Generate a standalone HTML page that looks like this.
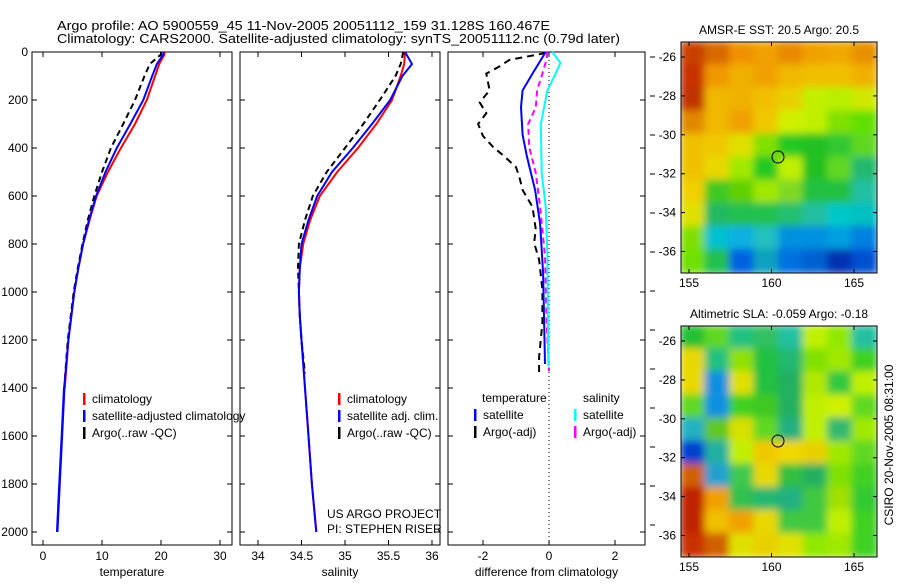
<!DOCTYPE html>
<html><head><meta charset="utf-8"><style>
body{margin:0;background:#fff;}
svg{font-family:"Liberation Sans",sans-serif;font-size:12px;}
</style></head><body>
<svg id="s" width="900" height="580" xmlns="http://www.w3.org/2000/svg">
<defs>
<filter id="bl" x="0" y="0" width="1" height="1"><feGaussianBlur stdDeviation="4"/></filter>
<clipPath id="c1"><rect x="681" y="42" width="196" height="231"/></clipPath>
<clipPath id="c2"><rect x="681" y="326" width="196" height="231"/></clipPath>
</defs>
<text x="57" y="30" font-size="13" textLength="493" lengthAdjust="spacingAndGlyphs">Argo profile: AO 5900559_45 11-Nov-2005 20051112_159 31.128S 160.467E</text>
<text x="57" y="43" font-size="13" textLength="563" lengthAdjust="spacingAndGlyphs">Climatology: CARS2000. Satellite-adjusted climatology: synTS_20051112.nc (0.79d later)</text>
<g id="maps"></g>
<g id="plots"></g>
</svg>
<script>
// ---- data ----
const tDepth = [0,10,50,100,200,300,400,500,600,700,800,900,1000,1200,1400];
const tClim  = [20.6,20.6,19.7,19.0,17.6,15.6,13.2,11.0,9.1,7.9,6.8,6.0,5.3,4.3,3.7];
const tDeep  = [1400,1600,1800,2000];
const tSatDeep=[3.6,3.2,2.8,2.4];
const tSat   = [20.4,20.4,19.3,18.5,17.0,14.8,12.5,10.6,9.0,7.8,6.8,6.0,5.3,4.3,3.6];
const tArgo  = [20.0,20.0,18.1,17.2,15.6,13.6,11.5,10.0,8.7,7.6,6.7,5.9,5.2,4.2,3.6];
const sDepth = [0,50,100,200,300,400,500,600,700,800,900,1000,1100,1200,1400,1600,1800,2000];
const sClim  = [35.69,35.68,35.64,35.54,35.36,35.15,34.91,34.71,34.60,34.52,34.48,34.47,34.48,34.50,34.54,34.58,34.62,34.67];
const sSat   = [35.69,35.77,35.66,35.52,35.31,35.09,34.85,34.68,34.58,34.50,34.48,34.47,34.48,34.50,34.54,34.58,34.62,34.67];
const sArgo  = [35.67,35.64,35.58,35.40,35.21,35.00,34.79,34.63,34.54,34.47,34.46,34.47,34.48,34.50,34.54];
const sArgoDepth=[0,50,100,200,300,400,500,600,700,800,900,1000,1100,1200,1340];
const dDepth = [4,33,60,90,160,210,255,300,350,395,435,480,520,575,645,740,795,865,990,1130,1270,1340];
const dTempArgo=[-0.1,-1.2,-1.5,-1.9,-1.8,-2.1,-1.9,-2.15,-2.0,-1.7,-1.35,-1.0,-0.9,-0.8,-0.5,-0.4,-0.45,-0.3,-0.2,-0.2,-0.3,-0.3];
const dDepth2 = [0,90,160,230,345,435,575,715,920,1300];
const dTempSat=[-0.1,-0.5,-0.8,-0.85,-0.8,-0.67,-0.42,-0.27,-0.18,-0.12];
const dDepth3 = [0,33,90,160,230,300,395,505,645,850,1130,1330];
const dSalArgo=[-0.05,-0.08,-0.2,-0.36,-0.4,-0.63,-0.6,-0.4,-0.27,-0.12,-0.07,0];
const dDepth4 = [0,45,90,160,300,505,645,850,1310];
const dSalSat=[0.1,0.35,0.2,-0.05,-0.25,-0.22,-0.1,-0.05,-0.02];
const depthTicks=[0,200,400,600,800,1000,1200,1400,1600,1800,2000];
const tTicks=[0,10,20,30];
const sTicks=[34,34.5,35,35.5,36];
const sTickLabels=["34","34.5","35","35.5","36"];
const dTicks=[-2,0,2];
const latTicks=[-26,-28,-30,-32,-34,-36];
const lonTicks=[155,160,165];
const map1=[
["#c84000","#d86800","#f09000","#f0a000","#e88800","#f0a000","#f0a800","#e89000"],
["#c83000","#f09800","#f0b000","#f0a000","#f0b800","#f0c000","#f0c000","#f0b000"],
["#c03000","#f0b800","#f0b000","#f0c000","#e8d000","#c0f000","#b8f000","#d0e800"],
["#e08800","#f0b800","#f0a000","#f0c800","#d0f000","#c0f000","#80e000","#60e000"],
["#f0c000","#f0c800","#e0e000","#80e000","#20c820","#20c020","#30c830","#60d820"],
["#f0c000","#e8d800","#a0e800","#20c820","#c0f000","#20c020","#60d820","#20b870"],
["#f0d000","#40c820","#60d000","#a0e800","#80d820","#20c040","#20c040","#20c0a0"],
["#e0e000","#20b860","#20c050","#20c050","#20c070","#20c0a0","#00c8c8","#00c0c0"],
["#80e000","#00c0d0","#10b0e0","#20c0c0","#0090e0","#0090e0","#00a0e0","#0080e0"],
["#70e000","#20c050","#0060e0","#10a0c0","#0070e0","#0060d0","#0030b0","#0050d0"]];
const map2=[
["#20c030","#60d820","#20c080","#30c060","#20c0a0","#c0f000","#90e800","#20c0a0"],
["#e8d800","#20c080","#90e000","#20c040","#20b870","#80e000","#a0e800","#40d020"],
["#e8d800","#1090e0","#e0e000","#20c040","#20b060","#b0e800","#30c840","#c0f000"],
["#60d820","#1090e0","#40d020","#40c820","#20b060","#c0f000","#d0f000","#60d820"],
["#20b0c0","#60c820","#d8e000","#60d820","#20b080","#c0f000","#30b870","#a0e800"],
["#0040d0","#20b0a0","#c0f000","#f0c800","#f0d800","#e8d000","#a0e800","#60d820"],
["#d06000","#20a0d0","#40c850","#e8d800","#30c040","#20b060","#80e000","#40d020"],
["#c02000","#f0a000","#30c050","#20b870","#20b080","#40c840","#a0e000","#30c830"],
["#c02000","#f0c000","#f0a000","#e8d800","#40c840","#40c840","#c0f000","#40d020"],
["#c83000","#d06000","#e0e000","#e8d000","#e0e000","#90e800","#a0e800","#40d020"]];

const NS="http://www.w3.org/2000/svg";
const P=document.getElementById('plots'), M=document.getElementById('maps');
function mk(tag,attrs,parent,txt){const e=document.createElementNS(NS,tag);for(const k in attrs)e.setAttribute(k,attrs[k]);if(txt!==undefined)e.textContent=txt;(parent||P).appendChild(e);return e;}
const yD=d=>52+d*0.24;
const xT=v=>43+v*5.9, xS=v=>258+(v-34)*87, xDf=v=>549+v*33;
const panels=[{x0:32,x1:232,fx:xT,ticks:tTicks,labs:tTicks.map(String),lab:"temperature"},
 {x0:240,x1:440,fx:xS,ticks:sTicks,labs:sTickLabels,lab:"salinity"},
 {x0:448,x1:645,fx:xDf,ticks:dTicks,labs:dTicks.map(String),lab:"difference from climatology"}];
panels.forEach((p,i)=>{
 const f=mk('rect',{x:p.x0,y:52,width:p.x1-p.x0,height:493,fill:'none',stroke:'#000'});
 
 
 depthTicks.forEach(d=>{mk('line',{x1:p.x0,x2:p.x0+5,y1:yD(d),y2:yD(d),stroke:'#000'});mk('line',{x1:p.x1,x2:p.x1-5,y1:yD(d),y2:yD(d),stroke:'#000'});});
 p.ticks.forEach((t,j)=>{const x=p.fx(t);mk('line',{x1:x,x2:x,y1:545,y2:540,stroke:'#000'});mk('line',{x1:x,x2:x,y1:52,y2:57,stroke:'#000'});
  const l=mk('text',{x:x,y:560,'text-anchor':'middle'},P,p.labs[j]);
  
  });
 const xl=mk('text',{x:(p.x0+p.x1)/2,y:576,'text-anchor':'middle'},P,p.lab);
 
 
});
depthTicks.forEach(d=>{const l=mk('text',{x:28,y:yD(d)+4,'text-anchor':'end'},P,String(d));
 
 });
for(let y=57;y<545;y+=39)mk('line',{x1:650,x2:655,y1:y,y2:y,stroke:'#000'});
mk('line',{x1:549,x2:549,y1:52,y2:545,stroke:'#000','stroke-dasharray':'1,3'});
function line(xs,ds,fx,col,dash,name,w){
 const pts=xs.map((v,i)=>fx(v).toFixed(1)+','+yD(ds[i]).toFixed(1)).join(' ');
 const e=mk('polyline',{points:pts,fill:'none',stroke:col,'stroke-width':w||2,'stroke-dasharray':dash||'none'});
 
 
}
line(tClim,tDepth,xT,'#f00',null,'temp-climatology-line');
line(tArgo,tDepth,xT,'#000','6,4','temp-argo-line');
line(tSat,tDepth,xT,'#00f',null,'temp-satellite-line');
line(tSatDeep,tDeep,xT,'#00f',null,'temp-satellite-deep-line',2.5);
line(sClim,sDepth,xS,'#f00',null,'sal-climatology-line');
line(sArgo,sArgoDepth,xS,'#000','6,4','sal-argo-line');
line(sSat,sDepth,xS,'#00f',null,'sal-satellite-line');
line(dTempArgo,dDepth,xDf,'#000','7,5','diff-temp-argo-line');
line(dTempSat,dDepth2,xDf,'#00f',null,'diff-temp-satellite-line');
line(dSalArgo,dDepth3,xDf,'#f0f','6,4','diff-sal-argo-line');
line(dSalSat,dDepth4,xDf,'#0ff',null,'diff-sal-satellite-line');
function legend(x,y,items,name){items.forEach((it,i)=>{mk('rect',{x:x,y:y+i*17-10,width:2.5,height:12,fill:it[1]});
 const t=mk('text',{x:x+9,y:y+i*17},P,it[0]);
 
 });}
legend(83,403,[["climatology","#f00"],["satellite-adjusted climatology","#00f"],["Argo(..raw -QC)","#000"]],'temp-legend');
legend(338,403,[["climatology","#f00"],["satellite adj. clim.","#00f"],["Argo(..raw -QC)","#000"]],'sal-legend');
mk('text',{x:482,y:402},P,'temperature');mk('text',{x:583,y:402},P,'salinity');
legend(474,419,[["satellite","#00f"],["Argo(-adj)","#000"]],'diff-temp-legend');
legend(574,419,[["satellite","#0ff"],["Argo(-adj)","#f0f"]],'diff-sal-legend');
mk('text',{x:327,y:518},P,'US ARGO PROJECT');mk('text',{x:327,y:533},P,'PI: STEPHEN RISER');
function drawMap(grid,y0,clip,title,name,cy){
 const g=mk('g',{'clip-path':'url(#'+clip+')'},M);
 
 
 const gi=mk('g',{filter:'url(#bl)'},g);
 const cw=196/8,ch=231/10;
 grid.forEach((row,r)=>row.forEach((c,k)=>mk('rect',{x:681+k*cw-1,y:y0+r*ch-1,width:cw+2,height:ch+2,fill:c},gi)));
 mk('rect',{x:681,y:y0,width:196,height:231,fill:'none',stroke:'#000'},M);
 mk('text',{x:779,y:y0-8,'text-anchor':'middle'},M,title);
 const lat0=y0+15;
 latTicks.forEach((l,i)=>{const y=lat0+i*38.9;mk('line',{x1:681,x2:685,y1:y,y2:y,stroke:'#000'},M);mk('line',{x1:877,x2:873,y1:y,y2:y,stroke:'#000'},M);mk('text',{x:676,y:y+4,'text-anchor':'end'},M,String(l));});
 lonTicks.forEach((l,i)=>{const x=689+i*82.5;mk('line',{x1:x,x2:x,y1:y0+231,y2:y0+227,stroke:'#000'},M);mk('line',{x1:x,x2:x,y1:y0,y2:y0+4,stroke:'#000'},M);mk('text',{x:x,y:y0+245,'text-anchor':'middle'},M,String(l));});
 const c=mk('circle',{cx:778,cy:cy,r:6,fill:'none',stroke:'#000'},M);
 
 
}
drawMap(map1,42,'c1','AMSR-E SST: 20.5 Argo: 20.5','sst-map',157);
drawMap(map2,326,'c2','Altimetric SLA: -0.059 Argo: -0.18','sla-map',441);
const r=mk('text',{x:0,y:0,transform:'translate(893,445) rotate(-90)','text-anchor':'middle'},M,'CSIRO 20-Nov-2005 08:31:00');


</script>
</body></html>
